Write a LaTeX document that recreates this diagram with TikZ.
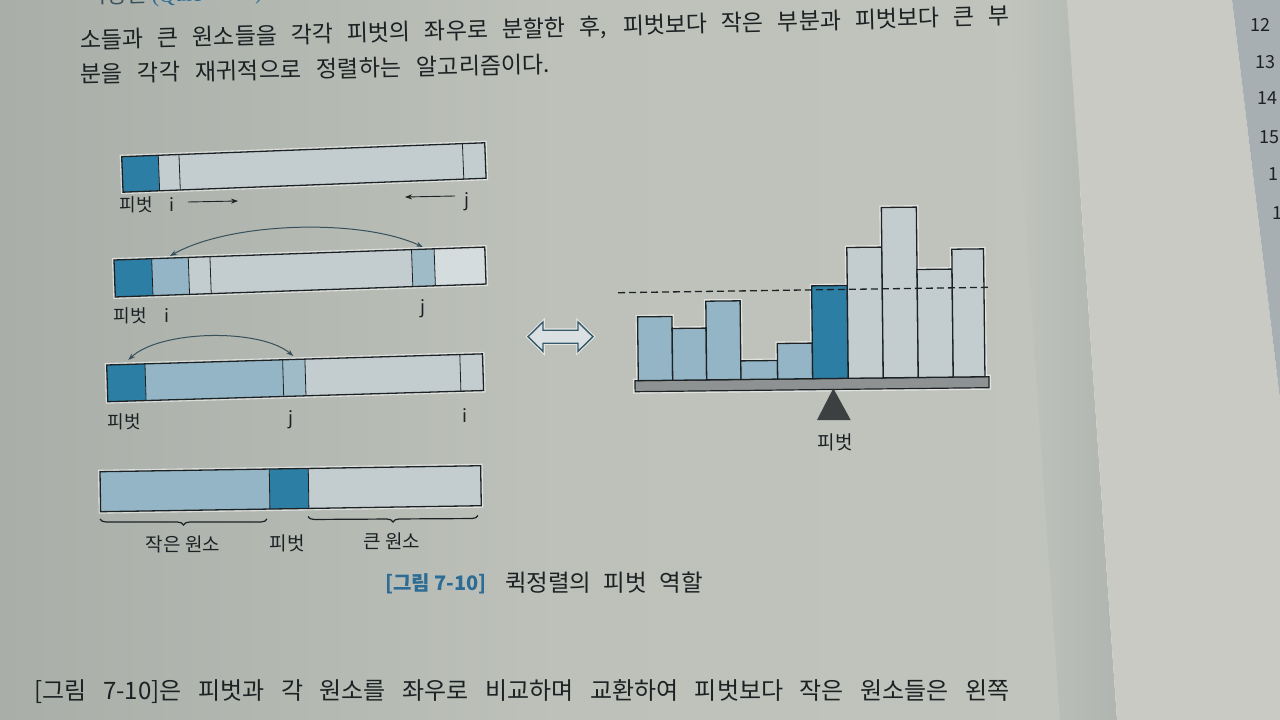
\documentclass[tikz,border=0pt]{standalone}
\usepackage{fontspec}
\setmainfont{Noto Sans CJK KR}
\newfontfamily\serifq{Liberation Serif}
\usetikzlibrary{decorations.pathreplacing,arrows.meta}
\definecolor{bgL}{HTML}{A9AEA8}
\definecolor{bgM}{HTML}{BDC1BA}
\definecolor{bgR}{HTML}{C1C4BD}
\definecolor{pageR}{HTML}{C8CAC3}
\definecolor{foldc}{HTML}{B0B5B1}
\definecolor{stripc}{HTML}{A7AFB3}
\definecolor{pivc}{HTML}{2D7EA4}
\definecolor{medc}{HTML}{94B5C5}
\definecolor{lightc}{HTML}{C3CDD0}
\definecolor{inkc}{HTML}{1C2224}
\definecolor{capblue}{HTML}{2C6C95}
\definecolor{slabc}{HTML}{8E9292}
\definecolor{trianc}{HTML}{3C4040}
\definecolor{arcc}{HTML}{37505A}
\tikzset{
  halo/.style={draw=white, draw opacity=0.55, line width=4pt},
  border/.style={draw=inkc, line width=1.3pt},
  cellline/.style={draw=inkc, line width=0.8pt},
  txt/.style={inner sep=0pt, text=inkc},
  lbl/.style={inner sep=0pt, text=inkc, font=\fontsize{18}{18}\selectfont},
  arr/.style={draw=inkc, line width=0.9pt, -{Stealth[length=7pt,width=5pt]}},
  swap/.style={draw=arcc, line width=1pt, {Stealth[length=7pt,width=5pt]}-{Stealth[length=7pt,width=5pt]}},
  bar/.style={draw=inkc, line width=1.3pt},
}
\begin{document}
\begin{tikzpicture}[x=1pt,y=-1pt]
\useasboundingbox (0,0) rectangle (1280,720);
% ---------- page background ----------
\shade[left color=bgL, right color=bgM] (0,0) rectangle (560,720);
\shade[left color=bgM, right color=bgR] (560,0) rectangle (1080,720);
\shade[left color=bgR, right color=foldc] (1010,0) -- (1067,0) -- (1117,720) -- (1060,720) -- cycle;
\fill[pageR] (1067,0) -- (1232,0) -- (1280,400) -- (1280,720) -- (1117,720) -- cycle;
\fill[stripc] (1232,0) -- (1280,0) -- (1280,400) -- cycle;
% ---------- margin numbers ----------
\begin{scope}[every node/.style={anchor=west, inner sep=0pt, text=inkc, font=\fontsize{18}{18}\selectfont}]
\node (n12) at (1250,25) {12};
\node (n13) at (1255,62) {13};
\node (n14) at (1257,98) {14};
\node (n15) at (1259,137) {15};
\node (n16) at (1268,174) {1};
\node (n17) at (1272,213) {1};
\end{scope}
% ---------- body text ----------
\node[inner sep=0pt, anchor=base west, rotate=1.5, font=\fontsize{22}{22}\selectfont] (head) at (86,4)
  {\textcolor{arcc}{퀵정렬} \textcolor{capblue}{\serifq (Quick Sort)}};
\node[txt, rotate=1.54, font=\fontsize{23}{23}\selectfont] (line1) at (545,29)
  {\makebox[930pt][s]{소들과 큰 원소들을 각각 피벗의 좌우로 분할한 후, 피벗보다 작은 부분과 피벗보다 큰 부}};
\node[txt, rotate=1.2, font=\fontsize{23}{23}\selectfont] (line2) at (315,69)
  {\makebox[470pt][s]{분을 각각 재귀적으로 정렬하는 알고리즘이다.}};
\node[txt, font=\fontsize{24}{24}\selectfont] (line3) at (522,692)
  {\makebox[975pt][s]{[그림 7-10]은 피벗과 각 원소를 좌우로 비교하며 교환하여 피벗보다 작은 원소들은 왼쪽}};
% ---------- bar 1 ----------
\begin{scope}[shift={(121.7,156.7)}, rotate=2.2]
 \draw[halo] (0,0) rectangle (363.3,35.5);
 \fill[lightc] (0,0) rectangle (363.3,35.5);
 \fill[pivc] (0,0) rectangle (36.6,35.5);
 \draw[cellline] (36.6,0) -- (36.6,35.5) (57.3,0) -- (57.3,35.5) (341,0) -- (341,35.5);
 \draw[border] (0,0) rectangle (363.3,35.5);
\end{scope}
\node[lbl] (p1) at (136,205) {피벗};
\node[lbl] (i1) at (172,205) {i};
\node[lbl] (j1) at (467,202) {j};
\coordinate (i1a) at (188,202); \coordinate (i1b) at (238,201);
\coordinate (j1a) at (455,196); \coordinate (j1b) at (405,197);
\draw[arr] (i1a) -- (i1b);
\draw[arr] (j1a) -- (j1b);
% ---------- bar 2 ----------
\begin{scope}[shift={(114,260)}, rotate=2.0]
 \draw[halo] (0,0) rectangle (371,37);
 \fill[lightc] (0,0) rectangle (371,37);
 \fill[pivc] (0,0) rectangle (37.7,37);
 \fill[medc] (37.7,0) rectangle (74.3,37);
 \fill[medc!75!lightc] (297.7,0) rectangle (320.3,37);
 \fill[lightc!70!white] (320.3,0) rectangle (371,37);
 \draw[cellline] (37.7,0) -- (37.7,37) (74.3,0) -- (74.3,37) (96,0) -- (96,37)
   (297.7,0) -- (297.7,37) (320.3,0) -- (320.3,37);
 \draw[border] (0,0) rectangle (371,37);
\end{scope}
\node[lbl] (p2) at (130,316) {피벗};
\node[lbl] (i2) at (167,316) {i};
\node[lbl] (j2) at (423,309) {j};
\coordinate (s2a) at (170,256); \coordinate (s2b) at (423,247);
\draw[swap] (s2a) .. controls (230,222) and (360,218) .. (s2b);
% ---------- bar 3 ----------
\begin{scope}[shift={(106.7,365)}, rotate=1.7]
 \draw[halo] (0,0) rectangle (376,36.7);
 \fill[lightc] (0,0) rectangle (376,36.7);
 \fill[pivc] (0,0) rectangle (38.3,36.7);
 \fill[medc] (38.3,0) rectangle (176,36.7);
 \fill[medc!75!lightc] (176,0) rectangle (198.3,36.7);
 \draw[cellline] (38.3,0) -- (38.3,36.7) (176,0) -- (176,36.7) (198.3,0) -- (198.3,36.7)
   (353.3,0) -- (353.3,36.7);
 \draw[border] (0,0) rectangle (376,36.7);
\end{scope}
\node[lbl] (p3) at (124,422) {피벗};
\node[lbl] (j3) at (291,420) {j};
\node[lbl] (i3) at (465,416) {i};
\coordinate (s3a) at (128.3,360); \coordinate (s3b) at (293.3,356);
\draw[swap] (s3a) .. controls (160,330) and (260,328) .. (s3b);
% ---------- bar 4 ----------
\begin{scope}[shift={(100,471.7)}, rotate=0.9]
 \draw[halo] (0,0) rectangle (380.7,40);
 \fill[lightc] (0,0) rectangle (380.7,40);
 \fill[medc] (0,0) rectangle (169.3,40);
 \fill[pivc] (169.3,0) rectangle (208.3,40);
 \draw[cellline] (169.3,0) -- (169.3,40) (208.3,0) -- (208.3,40);
 \draw[border] (0,0) rectangle (380.7,40);
\end{scope}
\coordinate (bl1) at (100,519); \coordinate (bl2) at (267,519);
\coordinate (br1) at (308,516.5); \coordinate (br2) at (478,515.5);
\draw[inkc, line width=1.2pt, decorate, decoration={brace, amplitude=6pt}] (bl2) -- (bl1);
\draw[inkc, line width=1.2pt, decorate, decoration={brace, amplitude=6pt}] (br2) -- (br1);
\node[txt, font=\fontsize{19}{19}\selectfont] (small) at (183,544) {작은 원소};
\node[txt, font=\fontsize{19}{19}\selectfont] (p4) at (287,543) {피벗};
\node[txt, font=\fontsize{19}{19}\selectfont] (big) at (392,541) {큰 원소};
% ---------- double arrow ----------
\draw[white, opacity=0.6, line width=3.5pt, line join=miter]
  (528,336.7) -- (543,322) -- (543,330.2) -- (578,330.2) -- (578,322) -- (593,336.7)
  -- (578,351.4) -- (578,343.2) -- (543,343.2) -- (543,351.4) -- cycle;
\filldraw[fill=lightc!60!white, draw=arcc!80!pivc, line width=1.4pt]
  (528,336.7) -- (543,322) -- (543,330.2) -- (578,330.2) -- (578,322) -- (593,336.7)
  -- (578,351.4) -- (578,343.2) -- (543,343.2) -- (543,351.4) -- cycle;
% ---------- seesaw ----------
\begin{scope}[shift={(635,380.7)}, rotate=0.65]
 \draw[halo] (0,0) rectangle (354,11);
 \foreach \a/\b/\h in {3.3/37.7/63.8, 37.7/71.7/51.8, 71.7/106/78.7, 106/142.7/18.6, 142.7/177.7/35.6,
   177.7/213.3/92.8, 213.3/248.3/130.8, 248.3/283.3/170.4, 283.3/318.3/108, 318.3/350/127.9}
   {\draw[halo] (\a,0) rectangle (\b,-\h);}
 \fill[slabc] (0,0) rectangle (354,11);
 \draw[inkc, line width=1.2pt] (0,0) rectangle (354,11);
 \filldraw[bar, fill=medc] (3.3,0) rectangle (37.7,-63.8);
 \filldraw[bar, fill=medc] (37.7,0) rectangle (71.7,-51.8);
 \filldraw[bar, fill=medc] (71.7,0) rectangle (106,-78.7);
 \filldraw[bar, fill=medc] (106,0) rectangle (142.7,-18.6);
 \filldraw[bar, fill=medc] (142.7,0) rectangle (177.7,-35.6);
 \filldraw[bar, fill=pivc] (177.7,0) rectangle (213.3,-92.8);
 \filldraw[bar, fill=lightc] (213.3,0) rectangle (248.3,-130.8);
 \filldraw[bar, fill=lightc] (248.3,0) rectangle (283.3,-170.4);
 \filldraw[bar, fill=lightc] (283.3,0) rectangle (318.3,-108);
 \filldraw[bar, fill=lightc] (318.3,0) rectangle (350,-127.9);
\end{scope}
\coordinate (dl) at (618,292.7); \coordinate (dr) at (989,287.3);
\draw[inkc, line width=1.3pt, dash pattern=on 7pt off 4pt] (dl) -- (dr);
\fill[trianc] (833.3,388.3) -- (850.7,420) -- (817,420) -- cycle;
\node[txt, font=\fontsize{19}{19}\selectfont] (p5) at (835,442) {피벗};
% ---------- caption ----------
\node[txt, text=capblue, font=\fontsize{20}{20}\selectfont\bfseries] (cap1) at (436,584) {[그림 7-10]};
\node[txt, font=\fontsize{23.5}{23.5}\selectfont] (cap2) at (604,583) {\makebox[198pt][s]{퀵정렬의 피벗 역할}};
\end{tikzpicture}
\end{document}
